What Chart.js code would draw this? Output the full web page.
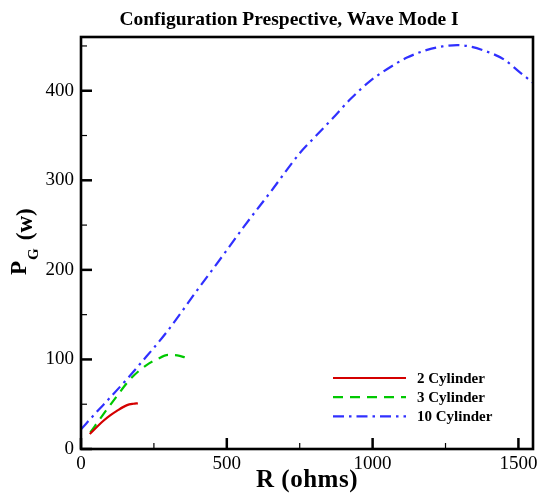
<!DOCTYPE html>
<html>
<head>
<meta charset="utf-8">
<script src="https://cdn.jsdelivr.net/npm/chart.js@4.4.1/dist/chart.umd.min.js"></script>
<style>
  html, body { margin: 0; padding: 0; background: #fff; }
  canvas { display: block; }
</style>
</head>
<body>
<canvas id="chart" width="543" height="499"></canvas>
<script>
  // Values
  const seriesNames = ['2 Cylinder', '3 Cylinder', '10 Cylinder'];

  const r2 = [30, 77, 100, 123, 158, 180, 195];
  const p2 = [16.7, 31.5, 37.5, 42.6, 49, 50.5, 51];

  const r3 = [32, 77, 123, 169, 226, 260, 300, 330, 360];
  const p3 = [18.5, 39, 59, 78, 94, 100, 105, 104.5, 102];

  const r10 = [0, 50, 100, 163, 200, 295, 400, 500, 558, 650, 752, 804, 861, 924, 992, 1049, 1118, 1187, 1240, 1290, 1340, 1381, 1450, 1507, 1550];
  const p10 = [22, 40, 57.5, 80, 94, 131, 178, 222, 248, 287, 331, 349, 368.5, 390.7, 411, 424, 437, 445.6, 449.5, 451, 449, 445, 435, 420, 409];

  // tick positions (all) and the ones that carry a label
  const xTicks = [0, 250, 500, 750, 1000, 1250, 1500];
  const yTicks = [0, 50, 100, 150, 200, 250, 300, 350, 400, 450];
  const xLabels = [0, 500, 1000, 1500];
  const yLabels = [0, 100, 200, 300, 400];

  const SERIF = "'Liberation Serif', 'DejaVu Serif', serif";
  Chart.defaults.font.family = SERIF;
  Chart.defaults.color = '#000';

  const toPoints = (xs, ys) => xs.map((x, i) => ({ x: x, y: ys[i] }));

  // frame, inward ticks, titles and legend the way the original plot has them
  const decorations = {
    id: 'decorations',
    afterDraw(chart) {
      const ctx = chart.ctx;
      const { left, right, top, bottom } = chart.chartArea;
      const xs = chart.scales.x, ys = chart.scales.y;
      ctx.save();
      ctx.strokeStyle = '#000';

      // inward ticks
      xs.ticks.forEach(t => {
        const px = xs.getPixelForValue(t.value);
        const major = xLabels.includes(t.value);
        ctx.lineWidth = major ? 2.5 : 1.2;
        ctx.beginPath();
        ctx.moveTo(px, bottom);
        ctx.lineTo(px, bottom - (major ? 11 : 6));
        ctx.stroke();
      });
      ys.ticks.forEach(t => {
        const py = ys.getPixelForValue(t.value);
        const major = yLabels.includes(t.value);
        ctx.lineWidth = major ? 2.5 : 1.2;
        ctx.beginPath();
        ctx.moveTo(left, py);
        ctx.lineTo(left + (major ? 11 : 6), py);
        ctx.stroke();
      });

      // box
      ctx.lineWidth = 2.6;
      ctx.strokeRect(left, top, right - left, bottom - top);

      // title
      ctx.fillStyle = '#000';
      ctx.textAlign = 'center';
      ctx.textBaseline = 'middle';
      ctx.font = 'bold 19.5px ' + SERIF;
      ctx.fillText('Configuration Prespective, Wave Mode I', 289, 20);

      // x title
      ctx.font = 'bold 25px ' + SERIF;
      ctx.letterSpacing = '0.5px';
      ctx.fillText('R (ohms)', (left + right) / 2, 481);
      ctx.letterSpacing = '0px';

      // y title with subscript
      ctx.save();
      ctx.translate(26, 275);
      ctx.rotate(-Math.PI / 2);
      ctx.textAlign = 'left';
      ctx.textBaseline = 'alphabetic';
      ctx.font = 'bold 23px ' + SERIF;
      ctx.fillText('P', 0, 0);
      let w = ctx.measureText('P').width;
      ctx.font = 'bold 15px ' + SERIF;
      ctx.fillText('G', w + 1, 12);
      w += ctx.measureText('G').width + 9;
      ctx.font = 'bold 23px ' + SERIF;
      ctx.fillText('(w)', w, 6);
      ctx.restore();

      // legend
      ctx.font = 'bold 15px ' + SERIF;
      ctx.textAlign = 'left';
      ctx.textBaseline = 'middle';
      chart.data.datasets.forEach((ds, i) => {
        const ly = 378 + i * 19.2;
        ctx.strokeStyle = ds.borderColor;
        ctx.lineWidth = ds.borderWidth;
        ctx.setLineDash(ds.borderDash || []);
        ctx.beginPath();
        ctx.moveTo(333, ly);
        ctx.lineTo(406, ly);
        ctx.stroke();
        ctx.setLineDash([]);
        ctx.fillStyle = '#000';
        ctx.fillText(ds.label, 417, ly + 1);
      });
      ctx.restore();
    }
  };

  new Chart(document.getElementById('chart'), {
    type: 'line',
    data: {
      datasets: [
        { label: seriesNames[0], data: toPoints(r2, p2), borderColor: '#d40000', borderWidth: 2.2, borderDash: [] },
        { label: seriesNames[1], data: toPoints(r3, p3), borderColor: '#00c800', borderWidth: 2.2, borderDash: [10, 7] },
        { label: seriesNames[2], data: toPoints(r10, p10), borderColor: '#3030ff', borderWidth: 2.2, borderDash: [11, 5, 2.5, 5] }
      ]
    },
    options: {
      responsive: false,
      animation: false,
      events: [],
      elements: {
        point: { radius: 0 },
        line: { cubicInterpolationMode: 'monotone', fill: false }
      },
      layout: { padding: { left: 40, right: 10, top: 37, bottom: 0 } },
      plugins: { legend: { display: false }, title: { display: false }, tooltip: { enabled: false } },
      scales: {
        x: {
          type: 'linear', min: 0, max: 1550,
          grid: { display: false, drawTicks: false },
          border: { display: false },
          afterBuildTicks: s => { s.ticks = xTicks.map(v => ({ value: v })); },
          ticks: {
            autoSkip: false, maxRotation: 0, padding: 4,
            font: { size: 19 },
            callback: v => xLabels.includes(v) ? String(v) : ''
          },
          afterFit: s => { s.height = 50; }
        },
        y: {
          type: 'linear', min: 0, max: 460,
          grid: { display: false, drawTicks: false },
          border: { display: false },
          afterBuildTicks: s => { s.ticks = yTicks.map(v => ({ value: v })); },
          ticks: {
            autoSkip: false, padding: 7,
            font: { size: 19 },
            callback: v => yLabels.includes(v) ? String(v) : ''
          },
          afterFit: s => { s.width = 41; }
        }
      }
    },
    plugins: [decorations]
  });
</script>
</body>
</html>
